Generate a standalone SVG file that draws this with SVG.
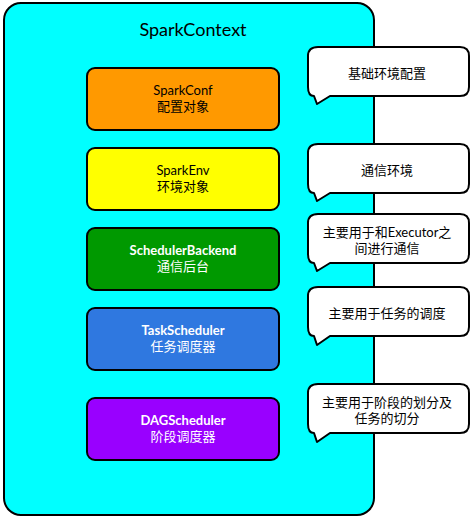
<svg xmlns="http://www.w3.org/2000/svg" width="473" height="519" viewBox="0 0 473 519">
<style>
.lbl{font-family:"Lato","Noto Sans CJK SC",sans-serif;font-size:13px;text-anchor:middle}
.box{stroke:#000;stroke-width:2}
.call{fill:#fff;stroke:#000;stroke-width:2;stroke-linejoin:round}
.w{fill:#fff}
.b{font-weight:bold}
.k{fill:#000}
</style>
<rect width="473" height="519" fill="#fff"/>
<g id="sparkcontext">
<rect x="4" y="3" width="370" height="512" rx="17" fill="#00ffff" class="box"/>
<text x="193" y="36" class="lbl k" style="font-size:18px">SparkContext</text>
</g>
<g id="sparkconf">
<rect x="87" y="68" width="192" height="62" rx="8" fill="#ff9900" class="box"/>
<text x="183" y="95" class="lbl k">SparkConf</text>
<text x="183" y="111" class="lbl k">配置对象</text>
</g>
<g id="sparkenv">
<rect x="87" y="148" width="192" height="62" rx="8" fill="#ffff00" class="box"/>
<text x="183" y="175" class="lbl k">SparkEnv</text>
<text x="183" y="191" class="lbl k">环境对象</text>
</g>
<g id="schedulerbackend">
<rect x="87" y="228" width="192" height="62" rx="8" fill="#009900" class="box"/>
<text x="183" y="255" class="lbl w b">SchedulerBackend</text>
<text x="183" y="271" class="lbl w">通信后台</text>
</g>
<g id="taskscheduler">
<rect x="87" y="308" width="192" height="62" rx="8" fill="#2f78e0" class="box"/>
<text x="183" y="335" class="lbl w b">TaskScheduler</text>
<text x="183" y="351" class="lbl w">任务调度器</text>
</g>
<g id="dagscheduler">
<rect x="87" y="398" width="192" height="62" rx="8" fill="#9900ff" class="box"/>
<text x="183" y="425" class="lbl w b">DAGScheduler</text>
<text x="183" y="441" class="lbl w">阶段调度器</text>
</g>
<g id="callout1">
<path class="call" d="M318,47 H460 Q469,47 469,56 V87 Q469,96 460,96 H330 L317,104 L314,96 Q308,96 308,87 V56 Q308,47 318,47 Z"/>
<text x="387" y="78" class="lbl k">基础环境配置</text>
</g>
<g id="callout2">
<path class="call" d="M318,144 H460 Q469,144 469,153 V184 Q469,193 460,193 H330 L317,201 L314,193 Q308,193 308,184 V153 Q308,144 318,144 Z"/>
<text x="387" y="175" class="lbl k">通信环境</text>
</g>
<g id="callout3">
<path class="call" d="M318,214 H460 Q469,214 469,223 V254 Q469,263 460,263 H330 L317,271 L314,263 Q308,263 308,254 V223 Q308,214 318,214 Z"/>
<text x="387" y="237" class="lbl k">主要用于和Executor之</text>
<text x="387" y="253" class="lbl k">间进行通信</text>
</g>
<g id="callout4">
<path class="call" d="M318,287 H460 Q469,287 469,296 V327 Q469,336 460,336 H330 L317,345 L314,336 Q308,336 308,327 V296 Q308,287 318,287 Z"/>
<text x="387" y="318" class="lbl k">主要用于任务的调度</text>
</g>
<g id="callout5">
<path class="call" d="M318,384 H460 Q469,384 469,393 V424 Q469,433 460,433 H330 L317,442 L314,433 Q308,433 308,424 V393 Q308,384 318,384 Z"/>
<text x="387" y="407" class="lbl k">主要用于阶段的划分及</text>
<text x="387" y="423" class="lbl k">任务的切分</text>
</g>
<g id="connectors"/>
</svg>
